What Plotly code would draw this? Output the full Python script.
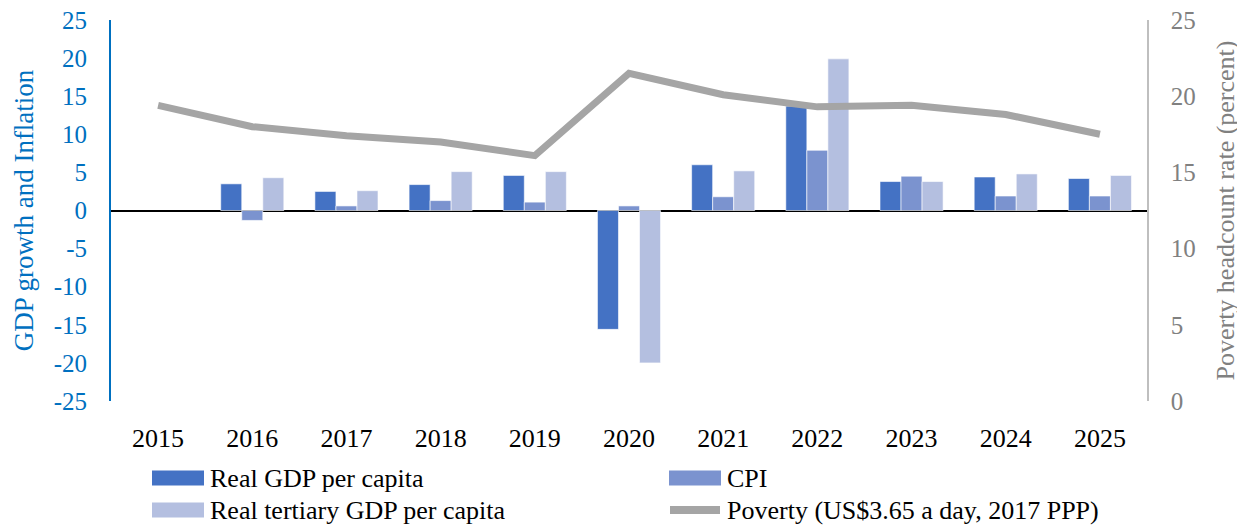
import plotly.graph_objects as go

years = ["2015", "2016", "2017", "2018", "2019", "2020", "2021", "2022", "2023", "2024", "2025"]
real_gdp_pc = [None, 3.5, 2.5, 3.4, 4.6, -15.6, 6.0, 13.7, 3.8, 4.4, 4.2]
cpi = [None, -1.3, 0.6, 1.3, 1.1, 0.6, 1.8, 7.9, 4.5, 1.9, 1.9]
real_tertiary_pc = [None, 4.3, 2.6, 5.1, 5.1, -20.0, 5.2, 19.9, 3.8, 4.8, 4.6]
poverty = [19.4, 18.0, 17.4, 17.0, 16.1, 21.5, 20.1, 19.3, 19.4, 18.8, 17.5]

left_tickvals = [-25, -20, -15, -10, -5, 0, 5, 10, 15, 20, 25]
left_ticktext = ["-25", "-20", "-15", "-10", "-5", "0", "5", "10", "15", "20", "25"]
right_tickvals = [0, 5, 10, 15, 20, 25]
right_ticktext = ["0", "5", "10", "15", "20", "25"]

series_names = ["Real GDP per capita", "CPI", "Real tertiary GDP per capita",
                "Poverty (US$3.65 a day, 2017 PPP)"]
series_colors = ["#4472C4", "#7B93CF", "#B4BFE0", "#A5A5A5"]

FONT = "Liberation Serif, Times New Roman, serif"
BLUE = "#0070C0"
GRAY = "#808080"

# page body has an 8px margin; lay the figure out in reference pixels minus that offset
OFF = 8
W, H = 1245 - OFF, 525 - OFF
PLOT_L, PLOT_R, PLOT_T, PLOT_B = 111 - OFF, 1147 - OFF, 20 - OFF, 401 - OFF
ML, MR, MT, MB = PLOT_L, W - PLOT_R, PLOT_T, H - PLOT_B
PW, PH = PLOT_R - PLOT_L, PLOT_B - PLOT_T


def px_to_paper(x, y):
    # x, y in reference-image pixels
    return (x - OFF - PLOT_L) / PW, (PLOT_B - (y - OFF)) / PH


fig = go.Figure()
for vals, name, col in zip([real_gdp_pc, cpi, real_tertiary_pc], series_names[:3], series_colors[:3]):
    fig.add_trace(go.Bar(x=years, y=vals, name=name, showlegend=False,
                         marker=dict(color=col, line=dict(color="white", width=0.6))))
fig.add_trace(go.Scatter(x=years, y=poverty, name=series_names[3], showlegend=False,
                         mode="lines", yaxis="y2",
                         line=dict(color=series_colors[3], width=7)))

# manual legend (two columns)
legend_items = [
    (series_names[0], series_colors[0], 152, 478, "bar"),
    (series_names[1], series_colors[1], 669, 478, "bar"),
    (series_names[2], series_colors[2], 152, 510, "bar"),
    (series_names[3], series_colors[3], 667, 510, "line"),
]
shapes = []
annotations = []
for name, col, x0, yc, kind in legend_items:
    if kind == "bar":
        a = px_to_paper(x0, yc - 7.5)
        b = px_to_paper(x0 + 52, yc + 7.5)
        shapes.append(dict(type="rect", xref="paper", yref="paper",
                           x0=a[0], x1=b[0], y0=b[1], y1=a[1],
                           fillcolor=col, line=dict(width=0)))
        tx = x0 + 56
    else:
        a = px_to_paper(x0 + 3, yc)
        b = px_to_paper(x0 + 53, yc)
        shapes.append(dict(type="line", xref="paper", yref="paper",
                           x0=a[0], x1=b[0], y0=a[1], y1=b[1],
                           line=dict(color=col, width=8)))
        tx = x0 + 58
    t = px_to_paper(tx, yc)
    annotations.append(dict(x=t[0], y=t[1], xref="paper", yref="paper",
                            text=name, showarrow=False, xanchor="left", yanchor="middle",
                            font=dict(family=FONT, size=26, color="black")))

fig.update_layout(
    width=W, height=H,
    margin=dict(l=ML, r=MR, t=MT, b=MB, autoexpand=False),
    paper_bgcolor="white", plot_bgcolor="white",
    font=dict(family=FONT, size=25, color="black"),
    barmode="group", bargap=0.33, bargroupgap=0,
    showlegend=False,
    shapes=shapes, annotations=annotations,
    xaxis=dict(type="category", showgrid=False, showline=False, ticks="",
               ticklabelstandoff=19, automargin=False,
               tickfont=dict(family=FONT, size=26, color="black")),
    yaxis=dict(range=[-25, 25], tickmode="array", tickvals=left_tickvals, ticktext=left_ticktext,
               showgrid=False,
               showline=True, linecolor=BLUE, linewidth=2,
               zeroline=True, zerolinecolor="black", zerolinewidth=2,
               ticklabelstandoff=17, automargin=False, ticklabeloverflow="allow",
               tickfont=dict(family=FONT, size=25, color=BLUE),
               title=dict(text="GDP growth and Inflation",
                          font=dict(family=FONT, size=27, color=BLUE), standoff=12)),
    yaxis2=dict(range=[0, 25], tickmode="array", tickvals=right_tickvals, ticktext=right_ticktext,
                overlaying="y", side="right",
                showgrid=False, zeroline=False,
                showline=True, linecolor="#BFBFBF", linewidth=1.5,
                ticklabelstandoff=17, automargin=False, ticklabeloverflow="allow",
                tickfont=dict(family=FONT, size=25, color=GRAY),
                title=dict(text="Poverty headcount rate (percent)",
                           font=dict(family=FONT, size=26, color=GRAY), standoff=21)),
)

fig.write_html("out.html")
